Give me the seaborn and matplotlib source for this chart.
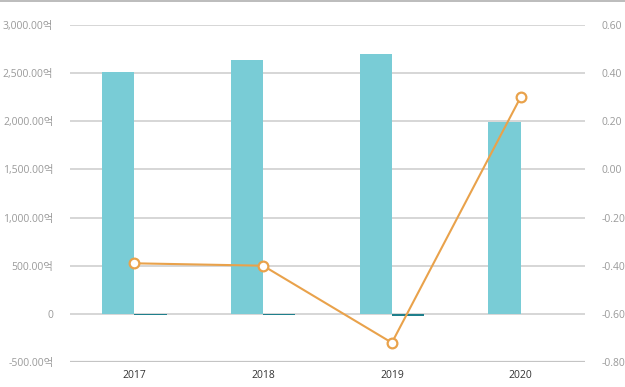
import matplotlib
matplotlib.use("Agg")
import matplotlib.pyplot as plt
import seaborn as sns
import numpy as np
import pandas as pd

years = ["2017", "2018", "2019", "2020"]
series_a = [2510, 2635, 2697, 1992]      # light teal bars (억)
series_b = [-10, -10, -22, -6]           # dark teal bars (억)
ratio = [-0.39, -0.40, -0.72, 0.30]      # orange line (right axis)
left_ticks = [-500, 0, 500, 1000, 1500, 2000, 2500, 3000]
right_ticks = [-0.8, -0.6, -0.4, -0.2, 0.0, 0.2, 0.4, 0.6]

sns.set_theme(style="white")
plt.rcParams['font.family'] = ['Open Sans', 'Noto Sans CJK KR', 'DejaVu Sans']

df = pd.DataFrame({
    "year": years * 2,
    "value": series_a + series_b,
    "series": ["A"] * 4 + ["B"] * 4,
})

fig = plt.figure(figsize=(6.25, 3.87), dpi=100)
ax = fig.add_axes([70 / 625, 25 / 387, 515 / 625, 337 / 387])

sns.barplot(data=df, x="year", y="value", hue="series", ax=ax,
            palette=["#79CCD6", "#1F7F8C"], width=0.5, saturation=1,
            legend=False, zorder=2)
for p in ax.patches:
    p.set_edgecolor("none")

ax.set_ylim(-500, 3000)
ax.set_xlim(-0.5, 3.5)
ax.set_yticks(left_ticks)


def fmt_left(v):
    if v == 0:
        return "0"
    return f"{v:,.2f}억"


ax.set_yticklabels([fmt_left(v) for v in left_ticks])
ax.set_xlabel("")
ax.set_ylabel("")
for v in left_ticks:
    ax.axhline(v, color="#d0d0d0" if v != -500 else "#c4c4c4",
               lw=1.2 if v != -500 else 1.6, zorder=1)
for s in ax.spines.values():
    s.set_visible(False)
ax.tick_params(axis="y", length=0, pad=12, labelsize=7.5, labelcolor="#9a9a9a")
ax.tick_params(axis="x", length=0, pad=6, labelsize=7.5, labelcolor="#333333")

ax2 = ax.twinx()
sns.lineplot(x=np.arange(len(years)), y=ratio, ax=ax2, color="#E9A24B",
             lw=1.5, marker="o", markersize=7, markerfacecolor="white",
             markeredgecolor="#E9A24B", markeredgewidth=1.6, zorder=5)
ax2.set_ylim(-0.8, 0.6)
ax2.set_yticks(right_ticks)
ax2.set_yticklabels([f"{v:.2f}" for v in right_ticks])
for s in ax2.spines.values():
    s.set_visible(False)
ax2.tick_params(axis="y", length=0, pad=12, labelsize=7.5, labelcolor="#9a9a9a")
ax2.grid(False)
ax2.set_xlim(-0.5, 3.5)

fig.add_artist(plt.Line2D([0, 1], [0.998, 0.998], transform=fig.transFigure,
                          color="#b0b0b0", lw=1.2))

fig.savefig("out.png", dpi=100)
